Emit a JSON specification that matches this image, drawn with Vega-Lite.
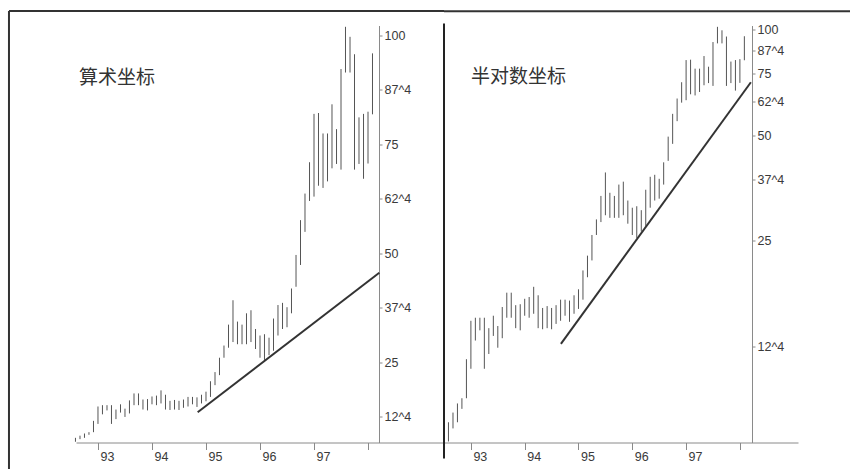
{
  "$schema": "https://vega.github.io/schema/vega-lite/v6.json",
  "autosize": {"type": "pad"},
  "padding": {"left": 7, "top": 9.5, "right": 0, "bottom": 0},
  "background": "white",
  "spacing": 0,
  "bounds": "flush",
  "config": {
    "view": {"stroke": null},
    "axis": {
      "grid": false,
      "domainColor": "#8a8a8a",
      "tickColor": "#8a8a8a",
      "labelColor": "#3a3a3a",
      "labelFont": "Liberation Sans",
      "labelFontSize": 12.5,
      "labelFlush": false,
      "labelOverlap": false
    }
  },
  "datasets": {
    "bars": [
      {"t": 1992.583, "l": 6.7, "h": 7.6},
      {"t": 1992.667, "l": 7.3, "h": 8.1},
      {"t": 1992.75, "l": 7.6, "h": 8.6},
      {"t": 1992.833, "l": 8.3, "h": 8.9},
      {"t": 1992.917, "l": 8.9, "h": 11.5},
      {"t": 1993.0, "l": 10.8, "h": 14.8},
      {"t": 1993.083, "l": 13.0, "h": 15.1},
      {"t": 1993.167, "l": 13.9, "h": 15.1},
      {"t": 1993.25, "l": 10.8, "h": 15.1},
      {"t": 1993.333, "l": 11.9, "h": 14.1},
      {"t": 1993.417, "l": 13.4, "h": 15.3},
      {"t": 1993.5, "l": 12.4, "h": 14.3},
      {"t": 1993.583, "l": 13.2, "h": 16.2},
      {"t": 1993.667, "l": 15.1, "h": 17.8},
      {"t": 1993.75, "l": 15.1, "h": 17.8},
      {"t": 1993.833, "l": 14.1, "h": 16.4},
      {"t": 1993.917, "l": 13.9, "h": 16.5},
      {"t": 1994.0, "l": 15.3, "h": 17.1},
      {"t": 1994.083, "l": 15.1, "h": 17.3},
      {"t": 1994.167, "l": 15.5, "h": 18.5},
      {"t": 1994.25, "l": 14.1, "h": 17.5},
      {"t": 1994.333, "l": 14.0, "h": 16.1},
      {"t": 1994.417, "l": 14.1, "h": 16.3},
      {"t": 1994.5, "l": 14.0, "h": 16.1},
      {"t": 1994.583, "l": 14.5, "h": 16.4},
      {"t": 1994.667, "l": 14.8, "h": 17.0},
      {"t": 1994.75, "l": 15.3, "h": 17.0},
      {"t": 1994.833, "l": 14.7, "h": 16.9},
      {"t": 1994.917, "l": 15.5, "h": 17.5},
      {"t": 1995.0, "l": 16.0, "h": 18.2},
      {"t": 1995.083, "l": 17.0, "h": 20.6},
      {"t": 1995.167, "l": 19.7, "h": 22.7},
      {"t": 1995.25, "l": 22.0, "h": 26.0},
      {"t": 1995.333, "l": 26.0, "h": 28.8},
      {"t": 1995.417, "l": 28.3, "h": 33.6},
      {"t": 1995.5, "l": 29.6, "h": 39.2},
      {"t": 1995.583, "l": 29.1, "h": 34.3},
      {"t": 1995.667, "l": 29.1, "h": 33.6},
      {"t": 1995.75, "l": 29.1, "h": 36.2},
      {"t": 1995.833, "l": 29.6, "h": 36.9},
      {"t": 1995.917, "l": 28.0, "h": 32.6},
      {"t": 1996.0, "l": 26.0, "h": 31.1},
      {"t": 1996.083, "l": 25.5, "h": 31.4},
      {"t": 1996.167, "l": 26.6, "h": 30.6},
      {"t": 1996.25, "l": 27.6, "h": 35.0},
      {"t": 1996.333, "l": 31.1, "h": 38.1},
      {"t": 1996.417, "l": 32.6, "h": 38.6},
      {"t": 1996.5, "l": 33.0, "h": 37.6},
      {"t": 1996.583, "l": 36.2, "h": 41.9},
      {"t": 1996.667, "l": 42.3, "h": 49.6},
      {"t": 1996.75, "l": 47.3, "h": 57.6},
      {"t": 1996.833, "l": 54.9, "h": 63.7},
      {"t": 1996.917, "l": 62.0, "h": 70.9},
      {"t": 1997.0, "l": 63.0, "h": 82.0},
      {"t": 1997.083, "l": 65.5, "h": 82.2},
      {"t": 1997.167, "l": 65.0, "h": 77.5},
      {"t": 1997.25, "l": 66.5, "h": 77.5},
      {"t": 1997.333, "l": 69.5, "h": 84.2},
      {"t": 1997.417, "l": 70.5, "h": 78.5},
      {"t": 1997.5, "l": 69.2, "h": 92.3},
      {"t": 1997.583, "l": 91.5, "h": 102.0},
      {"t": 1997.667, "l": 91.5, "h": 99.7},
      {"t": 1997.75, "l": 69.2, "h": 95.7},
      {"t": 1997.833, "l": 70.5, "h": 81.2},
      {"t": 1997.917, "l": 67.1, "h": 82.0},
      {"t": 1998.0, "l": 70.6, "h": 82.5},
      {"t": 1998.083, "l": 81.9, "h": 95.9}
    ]
  },
  "hconcat": [
    {
      "width": 368,
      "height": 417,
      "layer": [
        {
          "data": {"name": "bars"},
          "mark": {"type": "rule", "color": "#555555", "strokeWidth": 1},
          "encoding": {
            "x": {
              "field": "t", "type": "quantitative", "title": null,
              "scale": {"domain": [1992.593, 1999.407], "nice": false, "zero": false},
              "axis": {
                "values": [1993, 1994, 1995, 1996, 1997, 1998],
                "labelExpr": "datum.value >= 1998 ? '' : '' + (datum.value % 100)",
                "tickSize": 7, "labelAlign": "left", "labelBaseline": "top",
                "labelPadding": 1, "labelOffset": 2
              }
            },
            "y": {
              "field": "l", "type": "quantitative", "title": null,
              "scale": {"domain": [6.53, 102.3], "nice": false, "zero": false},
              "axis": {
                "orient": "right", "offset": -65,
                "values": [12.5, 25, 37.5, 50, 62.5, 75, 87.5, 100],
                "labelExpr": "datum.value % 1 ? floor(datum.value) + '^4' : '' + datum.value",
                "tickSize": 3, "labelPadding": 2
              }
            },
            "y2": {"field": "h"}
          }
        },
        {
          "data": {"values": [{"t": 1994.846, "v": 13.49}, {"t": 1998.209, "v": 45.5}]},
          "mark": {"type": "line", "color": "#333333", "strokeWidth": 2},
          "encoding": {
            "x": {"field": "t", "type": "quantitative", "title": null},
            "y": {"field": "v", "type": "quantitative", "title": null}
          }
        },
        {
          "data": {"values": [{"t": 1992.649, "v": 90.13, "label": "算术坐标"}]},
          "mark": {"type": "text", "align": "left", "baseline": "middle", "font": "Noto Sans CJK SC", "fontSize": 19, "color": "#333333"},
          "encoding": {
            "x": {"field": "t", "type": "quantitative", "title": null},
            "y": {"field": "v", "type": "quantitative", "title": null},
            "text": {"field": "label"}
          }
        },
        {
          "data": {"values": [{}]},
          "mark": {"type": "rule", "color": "#333333", "strokeWidth": 2},
          "encoding": {
            "x": {"datum": 1991.352, "type": "quantitative", "title": null},
            "y": {"datum": 105.63, "type": "quantitative", "title": null},
            "y2": {"datum": 0.33}
          }
        },
        {
          "data": {"values": [{}]},
          "mark": {"type": "rule", "color": "#333333", "strokeWidth": 2},
          "encoding": {
            "x": {"datum": 1991.352, "type": "quantitative", "title": null},
            "x2": {"datum": 1999.407},
            "y": {"datum": 105.63, "type": "quantitative", "title": null}
          }
        }
      ]
    },
    {
      "width": 354,
      "height": 417,
      "layer": [
        {
          "data": {"name": "bars"},
          "mark": {"type": "rule", "color": "#555555", "strokeWidth": 1},
          "encoding": {
            "x": {
              "field": "t", "type": "quantitative", "title": null,
              "scale": {"domain": [1992.5, 1999.08], "nice": false, "zero": false},
              "axis": {
                "values": [1993, 1994, 1995, 1996, 1997, 1998],
                "labelExpr": "datum.value >= 1998 ? '' : '' + (datum.value % 100)",
                "tickSize": 7, "labelAlign": "left", "labelBaseline": "top",
                "labelPadding": 1, "labelOffset": 2
              }
            },
            "y": {
              "field": "l", "type": "quantitative", "title": null,
              "scale": {"type": "log", "domain": [6.655, 102.9], "nice": false, "zero": false},
              "axis": {
                "orient": "right", "offset": -46,
                "values": [12.5, 25, 37.5, 50, 62.5, 75, 87.5, 100],
                "labelExpr": "datum.value % 1 ? floor(datum.value) + '^4' : '' + datum.value",
                "tickSize": 3, "labelPadding": 2
              }
            },
            "y2": {"field": "h"}
          }
        },
        {
          "data": {"values": [{"t": 1994.673, "v": 12.72}, {"t": 1998.204, "v": 70.9}]},
          "mark": {"type": "line", "color": "#333333", "strokeWidth": 2},
          "encoding": {
            "x": {"field": "t", "type": "quantitative", "title": null},
            "y": {"field": "v", "type": "quantitative", "title": null}
          }
        },
        {
          "data": {"values": [{"t": 1993.002, "v": 73.6, "label": "半对数坐标"}]},
          "mark": {"type": "text", "align": "left", "baseline": "middle", "font": "Noto Sans CJK SC", "fontSize": 19, "color": "#333333"},
          "encoding": {
            "x": {"field": "t", "type": "quantitative", "title": null},
            "y": {"field": "v", "type": "quantitative", "title": null},
            "text": {"field": "label"}
          }
        },
        {
          "data": {"values": [{}]},
          "mark": {"type": "rule", "color": "#222222", "strokeWidth": 2},
          "encoding": {
            "x": {"datum": 1992.5, "type": "quantitative", "title": null},
            "y": {"datum": 104.2, "type": "quantitative", "title": null},
            "y2": {"datum": 5.99}
          }
        },
        {
          "data": {"values": [{}]},
          "mark": {"type": "rule", "color": "#333333", "strokeWidth": 2},
          "encoding": {
            "x": {"datum": 1992.5, "type": "quantitative", "title": null},
            "x2": {"datum": 2000.07},
            "y": {"datum": 113.0, "type": "quantitative", "title": null}
          }
        }
      ]
    }
  ]
}
